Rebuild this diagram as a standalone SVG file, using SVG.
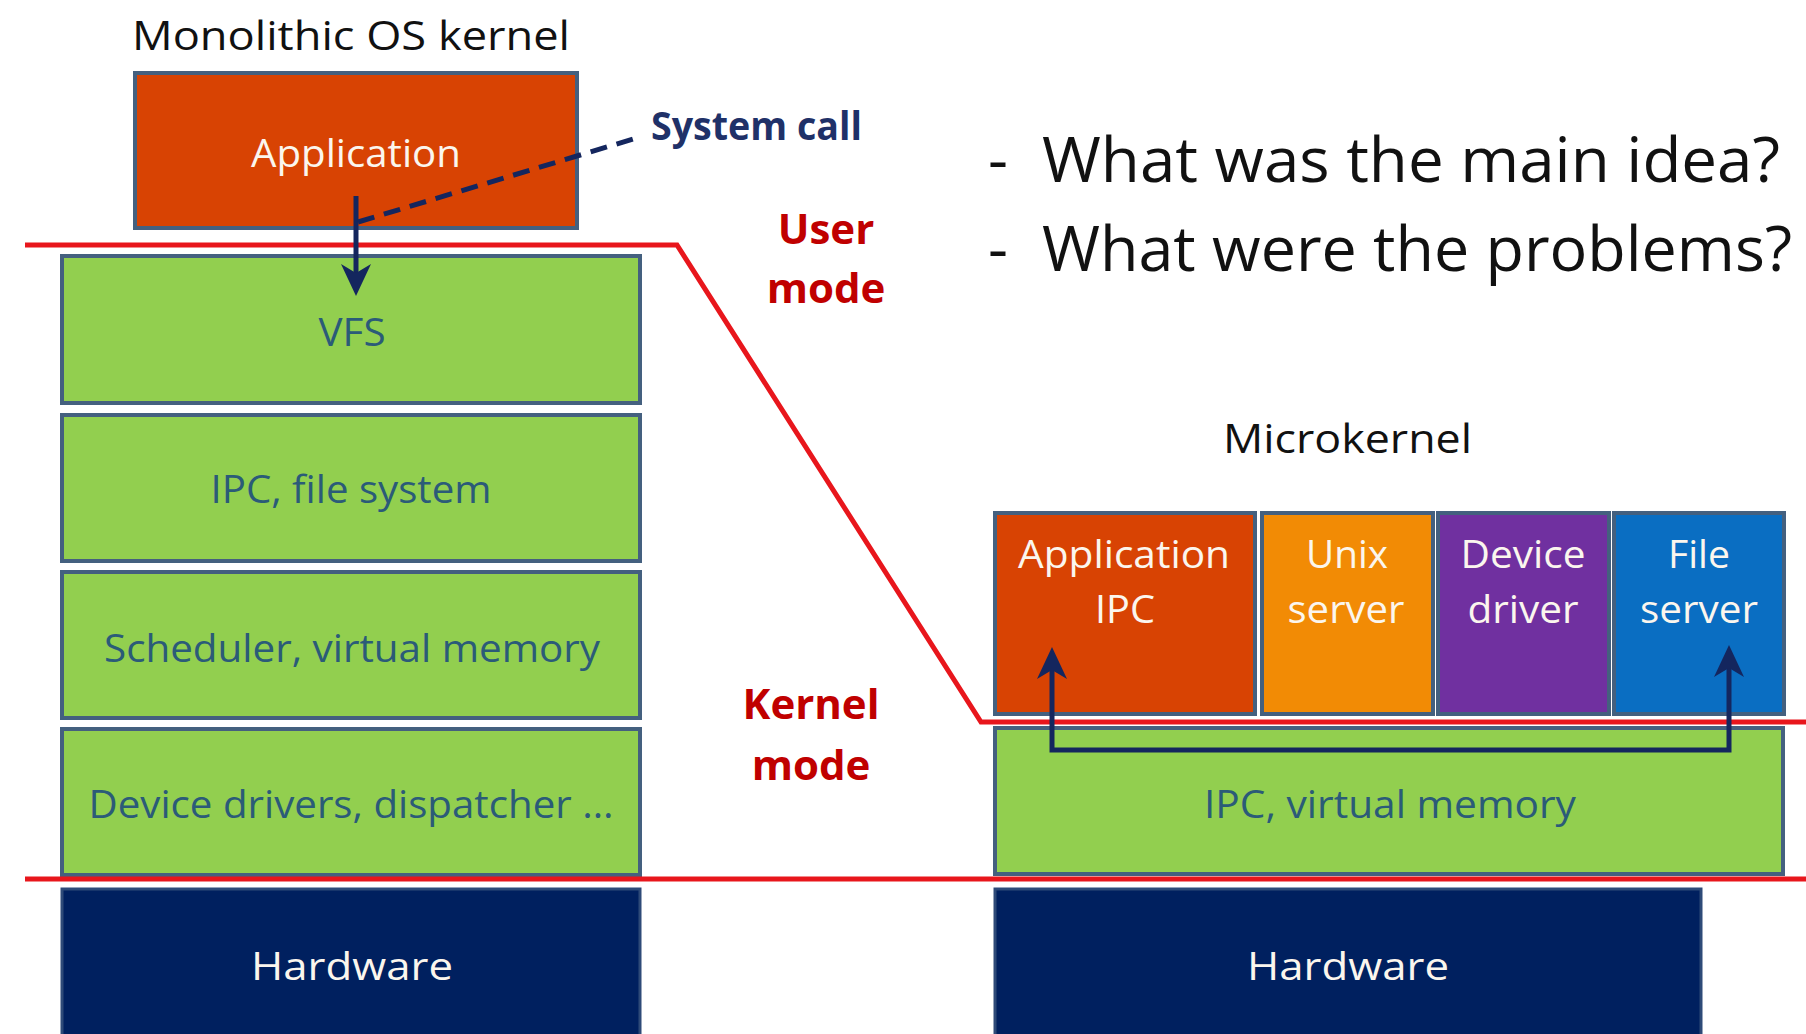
<svg xmlns="http://www.w3.org/2000/svg" width="1806" height="1034" viewBox="0 0 1806 1034">
  <style>
    text { font-family: "Open Sans", "Noto Sans", "Liberation Sans", sans-serif; }
    .box { stroke: #44607F; stroke-width: 4; }
    .green { fill: #92CF4F; }
    .hw { fill: #00205F; stroke: #2E4A78; stroke-width: 3; }
    .lbl { font-size: 39px; text-anchor: middle; }
    .dark { fill: #2B5B78; }
    .light { fill: #FBF6EE; }
    .head { font-size: 41px; fill: #111111; }
    .mode { font-size: 42px; font-weight: bold; fill: #C00000; text-anchor: middle; }
    .q { font-size: 62px; fill: #111111; }
    .boundary { fill: none; stroke: #E8161C; stroke-width: 5; stroke-linejoin: miter; }
    .flow { fill: none; stroke: #14265E; stroke-width: 5; }
  </style>
  <defs>
    <marker id="arrow" markerUnits="userSpaceOnUse" viewBox="-34 -17 36 34" refX="-10" refY="0" markerWidth="36" markerHeight="34" orient="auto-start-reverse">
      <path d="M0,0 L-32,-15 L-23,0 L-32,15 Z" fill="#14265E"/>
    </marker>
  </defs>

  <rect width="1806" height="1034" fill="#FFFFFF"/>

  <!-- headings -->
  <text class="head" x="132" y="50" textLength="438" lengthAdjust="spacingAndGlyphs">Monolithic OS kernel</text>
  <text class="head" x="1223" y="453" textLength="249" lengthAdjust="spacingAndGlyphs">Microkernel</text>

  <!-- questions -->
  <g id="questions">
    <text class="q" x="988" y="182">-</text>
    <text class="q" x="1042" y="182" textLength="738" lengthAdjust="spacingAndGlyphs">What was the main idea?</text>
    <text class="q" x="988" y="271">-</text>
    <text class="q" x="1042" y="271" textLength="750" lengthAdjust="spacingAndGlyphs">What were the problems?</text>
  </g>

  <!-- monolithic kernel stack -->
  <g id="mono-application">
    <rect class="box" x="135" y="73" width="442" height="155" fill="#D84303"/>
    <text class="lbl light" x="356" y="167" textLength="210" lengthAdjust="spacingAndGlyphs">Application</text>
  </g>
  <g id="mono-vfs">
    <rect class="box green" x="62" y="256" width="578" height="147"/>
    <text class="lbl dark" x="352" y="346" textLength="67" lengthAdjust="spacingAndGlyphs">VFS</text>
  </g>
  <g id="mono-ipc-fs">
    <rect class="box green" x="62" y="415" width="578" height="146"/>
    <text class="lbl dark" x="351" y="503" textLength="281" lengthAdjust="spacingAndGlyphs">IPC, file system</text>
  </g>
  <g id="mono-scheduler">
    <rect class="box green" x="62" y="572" width="578" height="146"/>
    <text class="lbl dark" x="352" y="662" textLength="496" lengthAdjust="spacingAndGlyphs">Scheduler, virtual memory</text>
  </g>
  <g id="mono-drivers">
    <rect class="box green" x="62" y="729" width="578" height="146"/>
    <text class="lbl dark" x="351" y="818" textLength="525" lengthAdjust="spacingAndGlyphs">Device drivers, dispatcher …</text>
  </g>
  <g id="mono-hardware">
    <rect class="hw" x="62" y="889" width="578" height="160"/>
    <text class="lbl light" x="352" y="980" textLength="202" lengthAdjust="spacingAndGlyphs">Hardware</text>
  </g>

  <!-- microkernel stack -->
  <g id="micro-application">
    <rect class="box" x="995" y="513" width="260" height="201" fill="#D84303"/>
    <text class="lbl light" x="1124" y="568" textLength="212" lengthAdjust="spacingAndGlyphs">Application</text>
    <text class="lbl light" x="1125" y="623" textLength="60" lengthAdjust="spacingAndGlyphs">IPC</text>
  </g>
  <g id="micro-unix">
    <rect class="box" x="1262" y="513" width="171" height="201" fill="#F28B05"/>
    <text class="lbl light" x="1347" y="568" textLength="82" lengthAdjust="spacingAndGlyphs">Unix</text>
    <text class="lbl light" x="1346" y="623" textLength="117" lengthAdjust="spacingAndGlyphs">server</text>
  </g>
  <g id="micro-device">
    <rect class="box" x="1438" y="513" width="171" height="201" fill="#7030A0"/>
    <text class="lbl light" x="1523" y="568" textLength="125" lengthAdjust="spacingAndGlyphs">Device</text>
    <text class="lbl light" x="1523" y="623" textLength="111" lengthAdjust="spacingAndGlyphs">driver</text>
  </g>
  <g id="micro-file">
    <rect class="box" x="1614" y="513" width="170" height="201" fill="#0A6EC2"/>
    <text class="lbl light" x="1699" y="568" textLength="62" lengthAdjust="spacingAndGlyphs">File</text>
    <text class="lbl light" x="1699" y="623" textLength="118" lengthAdjust="spacingAndGlyphs">server</text>
  </g>
  <g id="micro-ipc-vm">
    <rect class="box green" x="995" y="728" width="788" height="146"/>
    <text class="lbl dark" x="1390" y="818" textLength="372" lengthAdjust="spacingAndGlyphs">IPC, virtual memory</text>
  </g>
  <g id="micro-hardware">
    <rect class="hw" x="995" y="889" width="706" height="160"/>
    <text class="lbl light" x="1348" y="980" textLength="202" lengthAdjust="spacingAndGlyphs">Hardware</text>
  </g>

  <!-- user / kernel mode boundary -->
  <g id="mode-boundary">
    <polyline class="boundary" points="25,245 677,245 981,722 1806,722"/>
    <line class="boundary" x1="25" y1="879" x2="1806" y2="879"/>
    <text class="mode" x="826" y="244">User</text>
    <text class="mode" x="826" y="303">mode</text>
    <text class="mode" x="811" y="719">Kernel</text>
    <text class="mode" x="811" y="780">mode</text>
  </g>

  <!-- connectors -->
  <g id="connectors">
    <line class="flow" x1="356" y1="196" x2="356" y2="286" marker-end="url(#arrow)"/>
    <line class="flow" x1="358" y1="222" x2="640" y2="137" stroke-width="4" stroke-dasharray="17 10"/>
    <path class="flow" d="M1052,657 L1052,750 L1729,750 L1729,655" marker-start="url(#arrow)" marker-end="url(#arrow)"/>
    <text x="651" y="140" font-size="40" font-weight="bold" fill="#1F3168" textLength="211" lengthAdjust="spacingAndGlyphs">System call</text>
  </g>
</svg>
